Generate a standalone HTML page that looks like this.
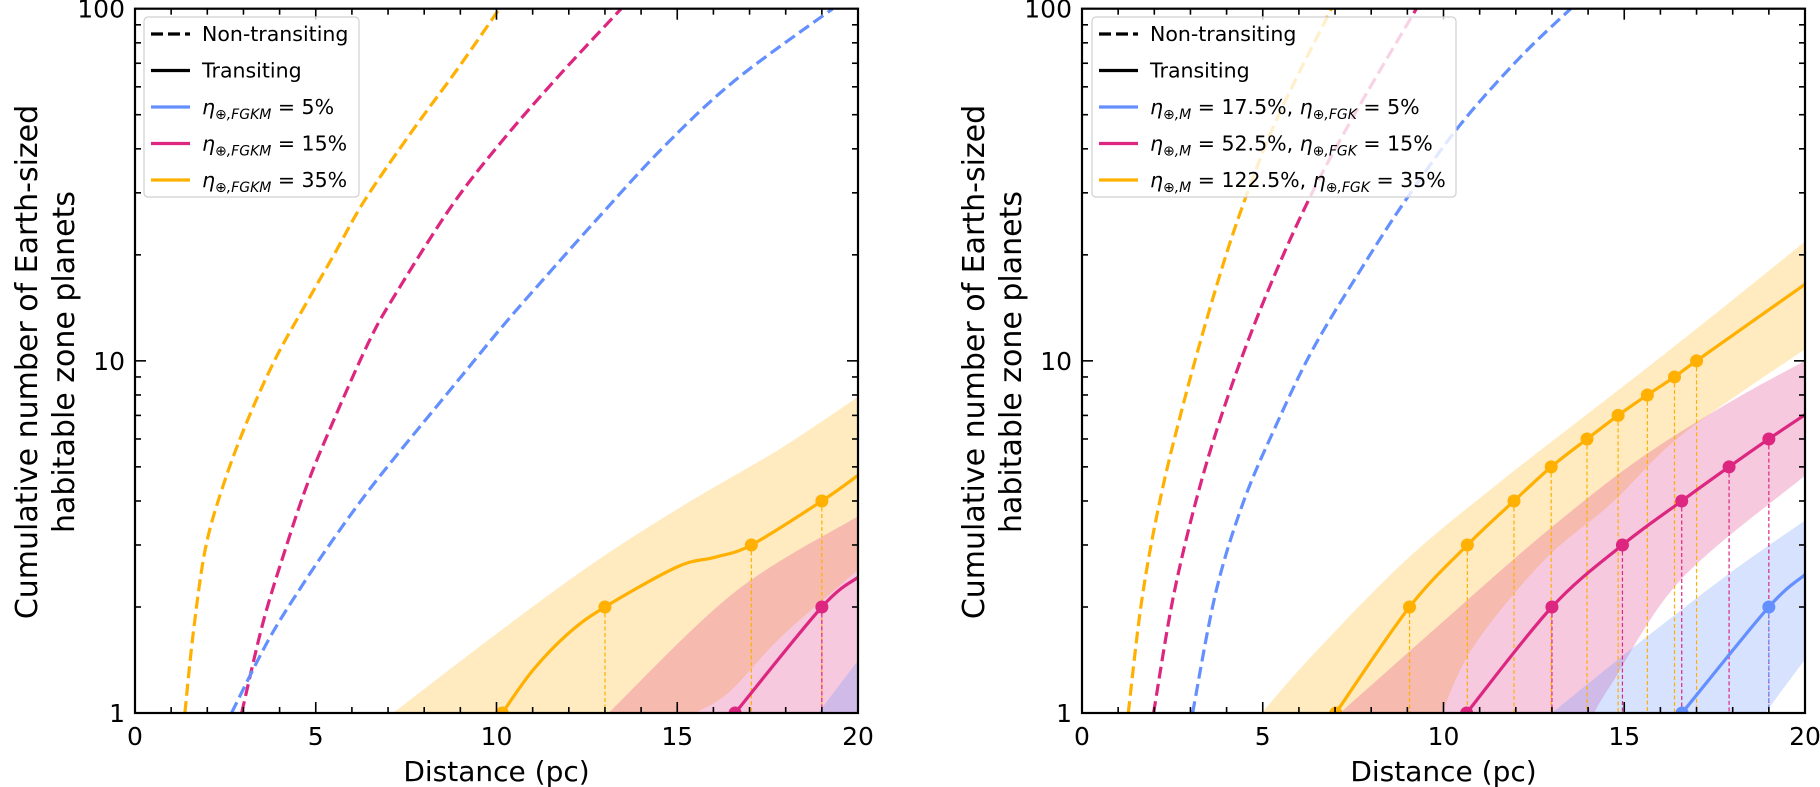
<!DOCTYPE html>
<html><head><meta charset="utf-8"><style>
html,body{margin:0;padding:0;background:#fff;}
svg{display:block;font-family:"DejaVu Sans","Liberation Sans",sans-serif;}
</style></head><body>
<svg id="chart" width="1820" height="787" viewBox="0 0 1820 787" xmlns="http://www.w3.org/2000/svg">
<defs>
<clipPath id="clipL"><rect x="135" y="8.7" width="723" height="704.3"/></clipPath>
<clipPath id="clipR"><rect x="1082" y="8.7" width="723" height="704.3"/></clipPath>
</defs>
<g id="panelL"></g>
<g id="panelR"></g>
</svg>
<script>
// ---------- data: left panel (non-transiting given as log10 of count) ----------
const L_orange_nt_d=[1.38,1.61,1.94,2.40,3.04,3.87,4.79,5.53,6.36,7.65,8.93,10.08];
const L_orange_nt_log=[0,0.226,0.463,0.634,0.813,1.003,1.173,1.306,1.457,1.65,1.83,2.0];
const L_pink_nt_d=[2.95,3.55,4.2,4.75,5.44,6.45,7.15,8.76,10.2,11.73,13.45];
const L_pink_nt_log=[0,0.26,0.478,0.645,0.818,1.05,1.18,1.44,1.63,1.81,2.0];
const L_blue_nt_d=[2.67,3.69,4.61,5.53,6.45,7.38,8.30,9.22,10.14,11.07,12.76,14.6,16.58,19.3];
const L_blue_nt_log=[0,0.207,0.36,0.50,0.63,0.75,0.865,0.98,1.095,1.205,1.40,1.605,1.795,2.0];
const L_orange_tr_d=[10.16,11.0,11.98,13.0,15.0,16.05,17.05,19.0,20];
const L_orange_tr_n=[1,1.32,1.68,2,2.6,2.77,3,4,4.73];
const L_pink_tr_d=[16.6,19,20];
const L_pink_tr_n=[1,2,2.43];
const L_orange_mk_d=[10.16,13.0,17.05,19.0];
const L_orange_mk_n=[1,2,3,4];
const L_pink_mk_d=[16.6,19.0];
const L_pink_mk_n=[1,2];
const L_orange_up_d=[7.14,10.2,12.76,15.3,17.86,20];
const L_orange_up_n=[1,1.74,2.7,3.96,5.64,7.9];
const L_orange_lo_d=[15.5,16.45,17.86,20];
const L_orange_lo_n=[1,1.15,1.64,2.55];
const L_pink_up_d=[13.1,16.58,20];
const L_pink_up_n=[1,2.2,3.62];
const L_blue_up_d=[18.9,20];
const L_blue_up_n=[1,1.41];
// ---------- data: right panel ----------
const R_orange_nt_d=[1.28,1.66,2.17,2.81,3.57,4.34,5.36,6.9];
const R_orange_nt_log=[0,0.325,0.61,0.88,1.16,1.41,1.68,2.0];
const R_pink_nt_d=[1.98,2.55,3.32,4.21,5.23,6.38,7.65,9.25];
const R_pink_nt_log=[0,0.342,0.665,0.95,1.22,1.48,1.72,2.0];
const R_blue_nt_d=[3.06,3.70,4.46,5.36,6.38,7.65,8.93,10.46,12.12,13.52];
const R_blue_nt_log=[0,0.342,0.598,0.815,1.032,1.249,1.453,1.67,1.862,2.0];
const R_orange_tr_d=[7.02,9.06,10.66,11.95,12.98,13.97,14.83,15.64,16.39,17.0,20];
const R_orange_tr_n=[1,2,3,4,5,6,7,8,9,10,16.5];
const R_pink_tr_d=[10.64,13.0,14.95,16.59,17.9,19.0,20];
const R_pink_tr_n=[1,2,3,4,5,6,7.03];
const R_blue_tr_d=[16.6,19.0,20];
const R_blue_tr_n=[1,2,2.47];
const R_orange_mk_d=[7.02,9.06,10.66,11.95,12.98,13.97,14.83,15.64,16.39,17.0];
const R_orange_mk_n=[1,2,3,4,5,6,7,8,9,10];
const R_pink_mk_d=[10.64,13.0,14.95,16.59,17.9,19.0];
const R_pink_mk_n=[1,2,3,4,5,6];
const R_blue_mk_d=[16.6,19.0];
const R_blue_mk_n=[1,2];
const R_orange_up_d=[4.97,6.38,8.93,11.48,14.03,16.58,20];
const R_orange_up_n=[1,1.46,2.7,4.46,7.13,11.4,21.8];
const R_orange_lo_d=[9.95,10.84,12.76,14.67,16.58,20];
const R_orange_lo_n=[1,1.55,2.7,3.96,6.15,10.8];
const R_pink_up_d=[7.14,10.2,12.76,15.3,17.86,20];
const R_pink_up_n=[1,1.9,3.22,5.16,7.57,10];
const R_pink_lo_d=[14.16,14.67,16.58,20];
const R_pink_lo_n=[1,1.22,2.4,4.72];
const R_blue_up_d=[13.0,15.3,17.86,20];
const R_blue_up_n=[1,1.55,2.47,3.52];
const R_blue_lo_d=[18.9,20];
const R_blue_lo_n=[1,1.42];
const xTicks=[0,5,10,15,20];
const yTicks=[1,10,100];

const NS="http://www.w3.org/2000/svg";
const C={blue:"#648FFF",pink:"#DC267F",orange:"#FFB000"};
const BAND={blue:"rgba(100,143,255,0.26)",pink:"rgba(220,38,127,0.25)",orange:"rgba(255,176,0,0.25)"};
const TOP=8.7,BOT=713,DEC=(713-8.7)/2,W=723;

function mk(tag,attrs,parent){const e=document.createElementNS(NS,tag);for(const k in attrs)e.setAttribute(k,attrs[k]);parent.appendChild(e);return e;}
function crPath(pts){
  if(pts.length<2)return "";
  let d="M"+pts[0][0].toFixed(2)+","+pts[0][1].toFixed(2);
  for(let i=0;i<pts.length-1;i++){
    const p0=pts[i-1]||pts[i],p1=pts[i],p2=pts[i+1],p3=pts[i+2]||p2;
    const c1=[p1[0]+(p2[0]-p0[0])/6,p1[1]+(p2[1]-p0[1])/6];
    const c2=[p2[0]-(p3[0]-p1[0])/6,p2[1]-(p3[1]-p1[1])/6];
    d+=" C"+c1[0].toFixed(2)+","+c1[1].toFixed(2)+" "+c2[0].toFixed(2)+","+c2[1].toFixed(2)+" "+p2[0].toFixed(2)+","+p2[1].toFixed(2);
  }
  return d;
}
function crCont(pts){return crPath(pts).replace(/^M[^ ]+/,"");}
const pow10=a=>a.map(v=>Math.pow(10,v));

function panel(g,x0,clip,cfg){
  const X=d=>x0+d/20*W;
  const Y=n=>BOT-Math.log10(n)*DEC;
  const P=(ds,ns)=>ds.map((d,i)=>[X(d),Y(ns[i])]);
  const pg=mk("g",{"clip-path":"url(#"+clip+")"},g);
  cfg.bands.forEach(b=>{
    const up=P(b.ud,b.un);
    let d=crPath(up);
    if(b.ld){const lo=P(b.ld,b.ln).reverse();d+=" L"+lo[0][0]+","+lo[0][1]+crCont(lo);}
    else d+=" L"+X(20)+","+Y(1);
    d+=" L"+X(b.ud[0])+","+Y(1)+" Z";
    const e=mk("path",{d:d,fill:BAND[b.c],stroke:"none"},pg);
    
    
  });
  cfg.nt.forEach(s=>{
    const e=mk("path",{d:crPath(P(s.d,s.n)),fill:"none",stroke:C[s.c],"stroke-width":3.2,"stroke-dasharray":"12,5.5"},pg);
    
    
  });
  cfg.mk.forEach(s=>{
    s.d.forEach((d,i)=>{
      if(s.n[i]<=1)return;
      const e=mk("line",{x1:X(d),y1:Y(s.n[i]),x2:X(d),y2:BOT,stroke:C[s.c],"stroke-width":1.2,"stroke-dasharray":"4,2.5"},pg);
      
      
    });
  });
  cfg.tr.forEach(s=>{
    const e=mk("path",{d:crPath(P(s.d,s.n)),fill:"none",stroke:C[s.c],"stroke-width":3.2},pg);
    
    
  });
  cfg.mk.forEach(s=>{
    s.d.forEach((d,i)=>{
      const e=mk("circle",{cx:X(d),cy:Y(s.n[i]),r:6.5,fill:C[s.c]},pg);
      
      
    });
  });
  const tk=mk("g",{stroke:"#000","stroke-width":1.6},g);
  for(let d=0;d<=20;d++){
    const maj=d%5===0,len=maj?11:6;
    mk("line",{x1:X(d),y1:BOT,x2:X(d),y2:BOT-len},tk);
    mk("line",{x1:X(d),y1:TOP,x2:X(d),y2:TOP+len},tk);
  }
  for(let dec=0;dec<2;dec++)for(let m=1;m<=10;m++){
    const n=m*Math.pow(10,dec);if(m===10&&dec===0)continue;
    const maj=(m===1||m===10),len=maj?11:6;
    mk("line",{x1:x0,y1:Y(n),x2:x0+len,y2:Y(n)},tk);
    mk("line",{x1:x0+W,y1:Y(n),x2:x0+W-len,y2:Y(n)},tk);
  }
  const fr=mk("rect",{x:x0,y:TOP,width:W,height:BOT-TOP,fill:"none",stroke:"#000","stroke-width":2.2},g);
  
  
  xTicks.forEach(d=>{
    const t=mk("text",{x:X(d),y:745,"font-size":25,"text-anchor":"middle"},g);t.textContent=d;
    
    
  });
  yTicks.forEach(n=>{
    const t=mk("text",{x:x0-10,y:Y(n)+9,"font-size":25,"text-anchor":"end"},g);t.textContent=n;
    
    
  });
  const xt=mk("text",{x:X(10),y:781,"font-size":28,"text-anchor":"middle"},g);xt.textContent="Distance (pc)";
  
  
  const yt=mk("text",{transform:"translate("+(x0-98)+",362) rotate(-90)","font-size":30,"text-anchor":"middle"},g);
  
  
  const t1=mk("tspan",{x:0,dy:0},yt);t1.textContent="Cumulative number of Earth-sized";
  const t2=mk("tspan",{x:0,dy:37},yt);t2.textContent="habitable zone planets";
  const L=cfg.leg;
  const lg=mk("g",{},g);
  
  
  mk("rect",{x:L.x,y:17,width:L.w,height:180,rx:4,fill:"rgba(255,255,255,0.8)",stroke:"#d0d0d0","stroke-width":1.2},lg);
  const rows=[{c:"#000",dash:true,t:"Non-transiting"},{c:"#000",t:"Transiting"}].concat(L.items);
  rows.forEach((r,i)=>{
    const y=34+i*36.5;
    mk("line",{x1:L.x+7,y1:y,x2:L.x+46,y2:y,stroke:r.c,"stroke-width":3.2,"stroke-dasharray":r.dash?"12,5":"none"},lg);
    const t=mk("text",{x:L.x+58,y:y+7,"font-size":20.5},lg);
    
    
    if(r.t){t.textContent=r.t;}
    else{
      r.parts.forEach(p=>{const s=mk("tspan",p.a||{},t);s.textContent=p.s;});
    }
  });
}
function eta(sub,rest){return [{s:"η",a:{"font-style":"italic"}},{s:sub,a:{"font-size":14,"font-style":"italic",dy:5}},{s:rest,a:{dy:-5}}];}
function eta2(v1,v2){return [{s:"η",a:{"font-style":"italic"}},{s:"⊕,M",a:{"font-size":14,"font-style":"italic",dy:5}},{s:" = "+v1+", ",a:{dy:-5}},{s:"η",a:{"font-style":"italic"}},{s:"⊕,FGK",a:{"font-size":14,"font-style":"italic",dy:5}},{s:" = "+v2,a:{dy:-5}}];}

panel(document.getElementById("panelL"),135,"clipL",{
  bands:[{c:"orange",ud:L_orange_up_d,un:L_orange_up_n,ld:L_orange_lo_d,ln:L_orange_lo_n},
         {c:"pink",ud:L_pink_up_d,un:L_pink_up_n},
         {c:"blue",ud:L_blue_up_d,un:L_blue_up_n}],
  nt:[{c:"orange",d:L_orange_nt_d,n:pow10(L_orange_nt_log)},{c:"pink",d:L_pink_nt_d,n:pow10(L_pink_nt_log)},{c:"blue",d:L_blue_nt_d,n:pow10(L_blue_nt_log)}],
  tr:[{c:"orange",d:L_orange_tr_d,n:L_orange_tr_n},{c:"pink",d:L_pink_tr_d,n:L_pink_tr_n}],
  mk:[{c:"orange",d:L_orange_mk_d,n:L_orange_mk_n},{c:"pink",d:L_pink_mk_d,n:L_pink_mk_n}],
  leg:{x:144,w:215,items:[{c:C.blue,parts:eta("⊕,FGKM"," = 5%")},{c:C.pink,parts:eta("⊕,FGKM"," = 15%")},{c:C.orange,parts:eta("⊕,FGKM"," = 35%")}]}
});
panel(document.getElementById("panelR"),1082,"clipR",{
  bands:[{c:"orange",ud:R_orange_up_d,un:R_orange_up_n,ld:R_orange_lo_d,ln:R_orange_lo_n},
         {c:"pink",ud:R_pink_up_d,un:R_pink_up_n,ld:R_pink_lo_d,ln:R_pink_lo_n},
         {c:"blue",ud:R_blue_up_d,un:R_blue_up_n,ld:R_blue_lo_d,ln:R_blue_lo_n}],
  nt:[{c:"orange",d:R_orange_nt_d,n:pow10(R_orange_nt_log)},{c:"pink",d:R_pink_nt_d,n:pow10(R_pink_nt_log)},{c:"blue",d:R_blue_nt_d,n:pow10(R_blue_nt_log)}],
  tr:[{c:"orange",d:R_orange_tr_d,n:R_orange_tr_n},{c:"pink",d:R_pink_tr_d,n:R_pink_tr_n},{c:"blue",d:R_blue_tr_d,n:R_blue_tr_n}],
  mk:[{c:"orange",d:R_orange_mk_d,n:R_orange_mk_n},{c:"pink",d:R_pink_mk_d,n:R_pink_mk_n},{c:"blue",d:R_blue_mk_d,n:R_blue_mk_n}],
  leg:{x:1092,w:364,items:[{c:C.blue,parts:eta2("17.5%","5%")},{c:C.pink,parts:eta2("52.5%","15%")},{c:C.orange,parts:eta2("122.5%","35%")}]}
});
</script>
</body></html>
